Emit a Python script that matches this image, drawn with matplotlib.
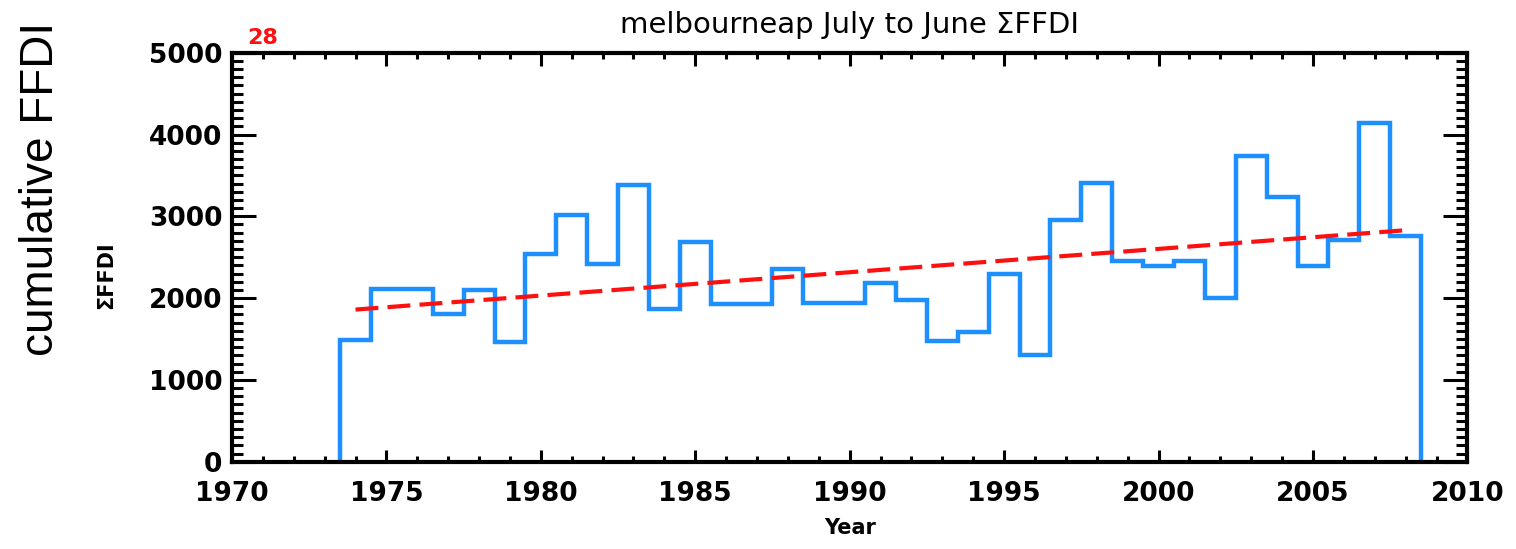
import numpy as np
import matplotlib
matplotlib.use('Agg')
import matplotlib.pyplot as plt
from matplotlib.ticker import MultipleLocator

# July-to-June cumulative FFDI, one value per season (labelled by end year)
years = np.arange(1974, 2009)
ffdi_sum = [1490, 2110, 2110, 1805, 2095, 1465, 2535, 3020, 2415, 3385,
            1865, 2680, 1925, 1925, 2350, 1945, 1945, 2180, 1975, 1475,
            1590, 2290, 1310, 2960, 3410, 2455, 2395, 2450, 2005, 3740,
            3240, 2395, 2710, 4140, 2760]

# linear trend end points
trend_years = [1974, 2008]
trend_values = [1860, 2830]

station = 'melbourneap'
n_label = '28'

fig = plt.figure(figsize=(15.16, 5.49), dpi=100)
ax = fig.add_axes([0.153, 0.159, 0.815, 0.745])

edges = np.append(years - 0.5, years[-1] + 0.5)
ax.stairs(ffdi_sum, edges, baseline=0, color='#1e8fff', lw=3.2)
ax.plot(trend_years, trend_values, color='#ff1010', lw=3.0,
        linestyle=(0, (5.5, 2.2)))

ax.set_xlim(1970, 2010)
ax.set_ylim(0, 5000)
ax.xaxis.set_major_locator(MultipleLocator(5))
ax.xaxis.set_minor_locator(MultipleLocator(1))
ax.yaxis.set_major_locator(MultipleLocator(1000))
ax.yaxis.set_minor_locator(MultipleLocator(100))

ax.tick_params(which='both', direction='in', top=True, right=True, width=2.2)
ax.tick_params(axis='x', which='major', length=9, pad=14)
ax.tick_params(axis='x', which='minor', length=4.5)
ax.tick_params(axis='y', which='major', length=17, pad=7)
ax.tick_params(axis='y', which='minor', length=8)
for lab in ax.get_xticklabels() + ax.get_yticklabels():
    lab.set_fontsize(19)
    lab.set_fontweight('bold')
for sp in ax.spines.values():
    sp.set_linewidth(3)

ax.set_title(station + ' July to June \u03a3FFDI', fontsize=21, pad=14)
ax.set_xlabel('Year', fontsize=15, fontweight='bold', labelpad=8)
ax.set_ylabel('\u03a3FFDI', fontsize=15, fontweight='bold')
ax.yaxis.set_label_coords(-0.094, 0.455)
ax.text(0.012, 1.012, n_label, transform=ax.transAxes, color='#ff1010',
        fontsize=16, fontweight='bold', ha='left', va='bottom')

fig.text(0.027, 0.655, 'cumulative FFDI', rotation=90, ha='center',
         va='center', fontsize=33, family='Liberation Sans')

fig.savefig('out.png', dpi=100)
